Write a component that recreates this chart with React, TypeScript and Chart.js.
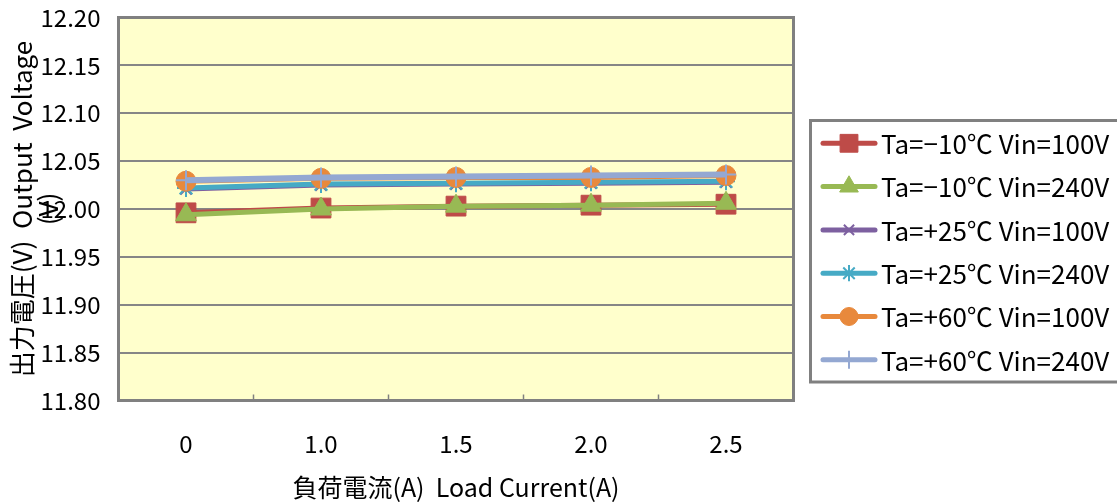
import React, { useEffect, useRef } from "react";
import { Chart, registerables } from "chart.js";
import { drawPoint } from "chart.js/helpers";

Chart.register(...registerables);

const categories = ["0", "1.0", "1.5", "2.0", "2.5"];
const seriesLabels = [
  "Ta=\u221210\u2103 Vin=100V",
  "Ta=\u221210\u2103 Vin=240V",
  "Ta=+25\u2103 Vin=100V",
  "Ta=+25\u2103 Vin=240V",
  "Ta=+60\u2103 Vin=100V",
  "Ta=+60\u2103 Vin=240V",
];
const m10v100 = [11.996, 12.001, 12.003, 12.004, 12.005];
const m10v240 = [11.994, 12.0, 12.003, 12.004, 12.006];
const p25v100 = [12.021, 12.025, 12.026, 12.027, 12.028];
const p25v240 = [12.022, 12.026, 12.027, 12.028, 12.029];
const p60v100 = [12.029, 12.032, 12.033, 12.033, 12.035];
const p60v240 = [12.03, 12.033, 12.034, 12.035, 12.036];
const yMin = 11.8;
const yMax = 12.2;
const yStep = 0.05;

const xTitle = "負荷電流(A)  Load Current(A)";
const yTitle = ["出力電圧(V)  Output  Voltage", "(V)"];

const FONT = "'Noto Sans CJK JP', 'Noto Sans', sans-serif";

type Style = {
  color: string;
  fill: string;
  pointStyle: string;
  radius: number;
  pbw: number;
  lw: number;
};

const styles: Style[] = [
  { color: "#BE4B48", fill: "#BE4B48", pointStyle: "rect", radius: 14, pbw: 1, lw: 5 },
  { color: "#98B954", fill: "#98B954", pointStyle: "triangle", radius: 12, pbw: 1, lw: 5 },
  { color: "#7D60A0", fill: "#7D60A0", pointStyle: "crossRot", radius: 8, pbw: 2, lw: 5 },
  { color: "#46AAC5", fill: "#46AAC5", pointStyle: "star", radius: 9, pbw: 2, lw: 5 },
  { color: "#E8893C", fill: "#E8893C", pointStyle: "circle", radius: 10, pbw: 1, lw: 5 },
  { color: "#94A8D2", fill: "#94A8D2", pointStyle: "cross", radius: 10, pbw: 2, lw: 6 },
];

const seriesData = [m10v100, m10v240, p25v100, p25v240, p60v100, p60v240];

const framePlugin = {
  id: "frame",
  beforeDraw(chart: any) {
    const { ctx, chartArea: a } = chart;
    ctx.save();
    ctx.fillStyle = "#FFFFCC";
    ctx.fillRect(a.left, a.top, a.right - a.left, a.bottom - a.top);
    ctx.restore();
  },
  beforeDatasetsDraw(chart: any) {
    const { ctx, chartArea: a, scales } = chart;
    const x = scales.x;
    ctx.save();
    ctx.strokeStyle = "#808080";
    ctx.lineWidth = 3;
    ctx.strokeRect(a.left, a.top, a.right - a.left, a.bottom - a.top);
    ctx.lineWidth = 1.5;
    for (let i = 1; i < categories.length; i++) {
      const px = (x.getPixelForValue(i - 1) + x.getPixelForValue(i)) / 2;
      ctx.beginPath();
      ctx.moveTo(px, a.bottom);
      ctx.lineTo(px, a.bottom - 6);
      ctx.stroke();
    }
    ctx.restore();
  },
  afterDraw(chart: any) {
    const { ctx } = chart;
    const boxL = 810.5;
    const boxT = 120.5;
    const boxB = 382;
    ctx.save();
    ctx.fillStyle = "#FFFFFF";
    ctx.fillRect(boxL, boxT, 1120 - boxL, boxB - boxT);
    ctx.strokeStyle = "#808080";
    ctx.lineWidth = 3;
    ctx.strokeRect(boxL, boxT, 1120 - boxL, boxB - boxT);
    const rowH = 43.3;
    const firstY = 143.3;
    seriesLabels.forEach((label, i) => {
      const st = styles[i];
      const y = firstY + i * rowH;
      ctx.strokeStyle = st.color;
      ctx.lineWidth = 5;
      ctx.lineCap = "round";
      ctx.beginPath();
      ctx.moveTo(823, y);
      ctx.lineTo(875, y);
      ctx.stroke();
      ctx.lineCap = "butt";
      ctx.fillStyle = st.fill;
      ctx.strokeStyle = st.color;
      ctx.lineWidth = st.pbw;
      drawPoint(ctx, { pointStyle: st.pointStyle, radius: st.radius * 0.9, rotation: 0, borderWidth: st.pbw } as any, 849, y);
      ctx.fillStyle = "#000000";
      ctx.font = `26px ${FONT}`;
      ctx.textAlign = "left";
      ctx.textBaseline = "middle";
      ctx.fillText(label, 881, y + 1);
    });
    ctx.restore();
  },
};

export default function App() {
  const ref = useRef<HTMLCanvasElement | null>(null);
  useEffect(() => {
    if (!ref.current) return;
    Chart.defaults.font.family = FONT;
    const datasets = seriesData.map((d, i) => ({
      label: seriesLabels[i],
      data: d,
      borderColor: styles[i].color,
      backgroundColor: styles[i].fill,
      borderWidth: styles[i].lw,
      pointStyle: styles[i].pointStyle,
      pointRadius: styles[i].radius,
      pointBackgroundColor: styles[i].fill,
      pointBorderColor: styles[i].color,
      pointBorderWidth: styles[i].pbw,
      tension: 0,
      fill: false,
      order: seriesData.length - i,
    }));
    const chart = new Chart(ref.current, {
      type: "line",
      data: { labels: categories, datasets },
      options: {
        animation: false,
        responsive: false,
        devicePixelRatio: 1,
        layout: { padding: { top: 17.5, right: 323.5, left: 0, bottom: 0 } },
        plugins: { legend: { display: false }, tooltip: { enabled: false } },
        scales: {
          x: {
            type: "category",
            offset: true,
            grid: { display: false, drawTicks: false },
            border: { display: false },
            ticks: { color: "#000", font: { size: 24 }, padding: 29 },
            title: { display: true, text: xTitle, color: "#000", font: { size: 25 }, padding: 0 },
            afterFit: (s: any) => {
              s.height = 101.5;
              s.paddingLeft = 0;
              s.paddingRight = 0;
            },
          },
          y: {
            min: yMin,
            max: yMax,
            grid: { color: "#868686", lineWidth: 2, drawTicks: false },
            border: { display: false },
            ticks: {
              stepSize: yStep,
              color: "#000",
              font: { size: 24 },
              padding: 18,
              callback: (v: any) => Number(v).toFixed(2),
            },
            title: {
              display: true,
              text: yTitle,
              color: "#000",
              font: { size: 26, lineHeight: 1.0 },
              padding: { top: 9, bottom: 0 },
            },
            afterFit: (s: any) => {
              s.width = 118.5;
              s.paddingTop = 0;
              s.paddingBottom = 0;
            },
          },
        },
      },
      plugins: [framePlugin],
    } as any);
    return () => chart.destroy();
  }, []);
  return (
    <div style={{ position: "absolute", left: 0, top: 0, width: 1117, height: 502, background: "#fff" }}>
      <canvas ref={ref} width={1117} height={502} style={{ display: "block" }} />
    </div>
  );
}
